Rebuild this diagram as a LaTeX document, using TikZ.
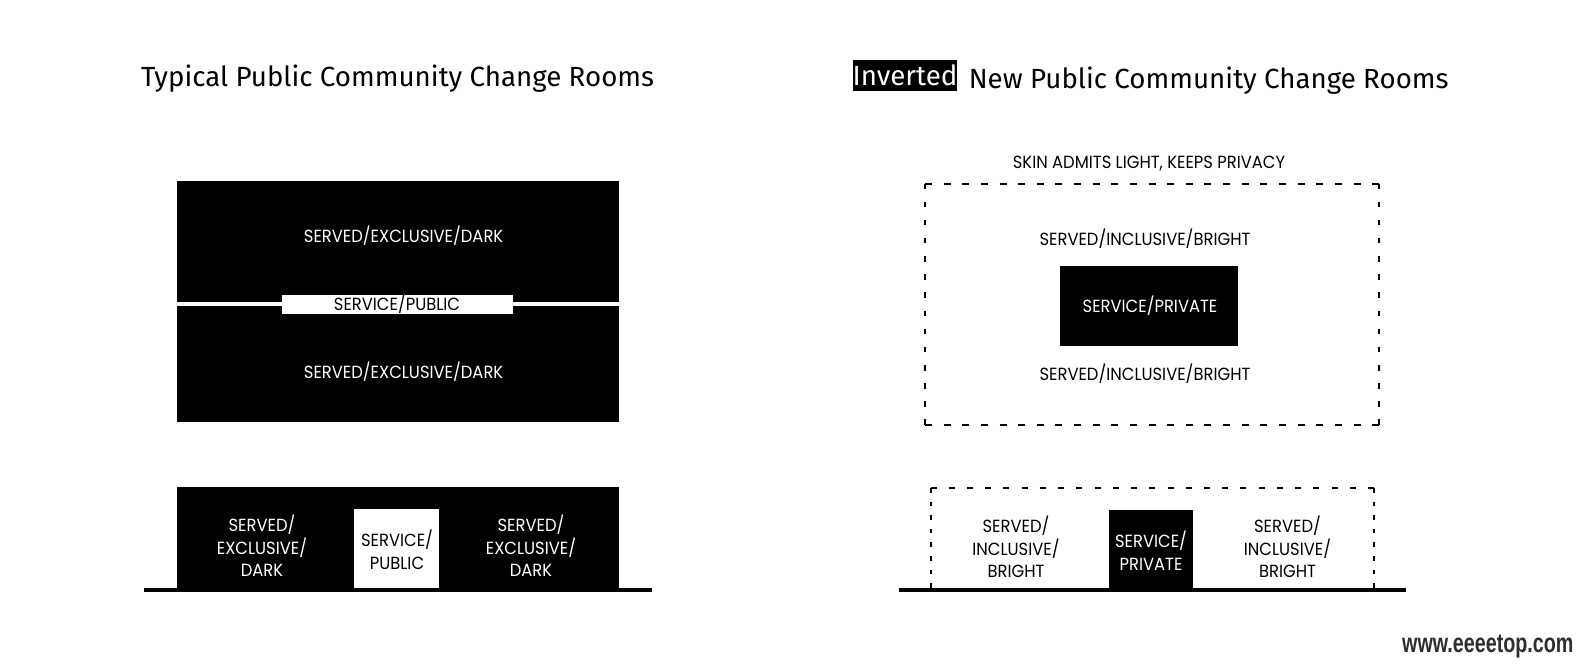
\documentclass[tikz,border=0pt]{standalone}
\usepackage{fontspec}
\setmainfont{Poppins}
\newfontfamily\titlefont{Fira Sans}
\newfontfamily\bodyfont[FakeStretch=0.93]{Poppins}
\newfontfamily\wmfont[FakeStretch=0.73]{Liberation Sans}
\begin{document}
\begin{tikzpicture}[x=1pt,y=-1pt,
  blackbox/.style={fill=black, draw=none, inner sep=0pt, outer sep=0pt},
  whitebox/.style={fill=white, draw=none, inner sep=0pt, outer sep=0pt},
  lbl/.style={font=\bodyfont\fontsize{17.6}{22.7}\selectfont, inner sep=0pt, align=center},
  wlbl/.style={lbl, text=white},
  ttl/.style={font=\titlefont\fontsize{27.7}{33}\selectfont, inner sep=0pt},
  ground/.style={line width=4pt},
  dashtop/.style={line width=2pt, dash pattern=on 7pt off 11.63pt},
  dashtopv/.style={line width=2pt, dash pattern=on 5.5pt off 12.65pt},
  dashlow/.style={line width=2pt, dash pattern=on 6pt off 12.23pt},
  dashlowv/.style={line width=2pt, dash pattern=on 4.5pt off 9.1pt},
]
\fill[white] (0,0) rectangle (1582,664);
\useasboundingbox (0,0) rectangle (1582,664);

% ---------- titles ----------
\node[ttl, anchor=base west] (tleft) at (141,86) {Typical Public Community Change Rooms};
\node[ttl, fill=black, text=white, minimum width=102pt, minimum height=31pt] (tinv) at (905,75.5) {Inverted};
\node[ttl, anchor=base west] (tright) at (968.6,88) {New Public Community Change Rooms};

% ---------- left plan ----------
\node[blackbox, anchor=north west, minimum width=442pt, minimum height=121pt] (topA) at (176.5,181) {};
\node[blackbox, anchor=north west, minimum width=442pt, minimum height=116pt] (topB) at (176.5,305.5) {};
\node[whitebox, anchor=north west, minimum width=231pt, minimum height=19.5pt] (svcpub) at (281.5,294.5) {};
\node[wlbl, anchor=base] (tA) at (403.6,242) {SERVED/EXCLUSIVE/DARK};
\node[wlbl, anchor=base] (tB) at (403.6,378) {SERVED/EXCLUSIVE/DARK};
\node[lbl, anchor=base] (tsp) at (397,310) {SERVICE/PUBLIC};

% ---------- left section ----------
\node[blackbox, anchor=north west, minimum width=442pt, minimum height=101pt] (secL) at (176.5,487) {};
\node[whitebox, anchor=north west, minimum width=85pt, minimum height=79.5pt] (secLsvc) at (354,508.5) {};
\coordinate (gL1) at (144,590);
\coordinate (gL2) at (652,590);
\draw[ground] (gL1) -- (gL2);
\node[wlbl] (sL1) at (262,546) {SERVED/\\EXCLUSIVE/\\DARK};
\node[lbl] (sL2) at (397,550) {SERVICE/\\PUBLIC};
\node[wlbl] (sL3) at (531,546) {SERVED/\\EXCLUSIVE/\\DARK};

% ---------- right plan ----------
\node[lbl, anchor=base] (skin) at (1149,168.5) {SKIN ADMITS LIGHT, KEEPS PRIVACY};
\coordinate (r1) at (925,183.5);
\coordinate (r2) at (1379,183.5);
\coordinate (r3) at (1379,425);
\coordinate (r4) at (925,425);
\draw[dashtop] (r1) -- (r2);
\draw[dashtop] (r4) -- (r3);
\draw[dashtopv] (r1) -- (r4);
\draw[dashtopv] (r2) -- (r3);
\node[blackbox, anchor=north west, minimum width=178.5pt, minimum height=80pt] (spriv) at (1059.5,266) {};
\node[lbl, anchor=base] (tC) at (1145,245) {SERVED/INCLUSIVE/BRIGHT};
\node[lbl, anchor=base] (tD) at (1145,380.3) {SERVED/INCLUSIVE/BRIGHT};
\node[wlbl, anchor=base] (tspr) at (1150,312.5) {SERVICE/PRIVATE};

% ---------- right section ----------
\coordinate (s1) at (930.5,488);
\coordinate (s2) at (1374,488);
\coordinate (s3) at (1374,588);
\coordinate (s4) at (930.5,588);
\draw[dashlow] (s1) -- (s2);
\draw[dashlowv] (s1) -- (s4);
\draw[dashlowv] (s2) -- (s3);
\node[blackbox, anchor=north west, minimum width=84.5pt, minimum height=78.5pt] (secRsvc) at (1108.5,509.5) {};
\coordinate (gR1) at (899,590);
\coordinate (gR2) at (1405.5,590);
\draw[ground] (gR1) -- (gR2);
\node[lbl] (sR1) at (1016,547) {SERVED/\\INCLUSIVE/\\BRIGHT};
\node[wlbl] (sR2) at (1151,551) {SERVICE/\\PRIVATE};
\node[lbl] (sR3) at (1287.5,547) {SERVED/\\INCLUSIVE/\\BRIGHT};

% ---------- watermark ----------
\node[font=\wmfont\bfseries\fontsize{27}{29}\selectfont, text=black!82, anchor=base west, inner sep=0pt] (wm) at (1402,652) {www.eeeetop.com};
\end{tikzpicture}
\end{document}
